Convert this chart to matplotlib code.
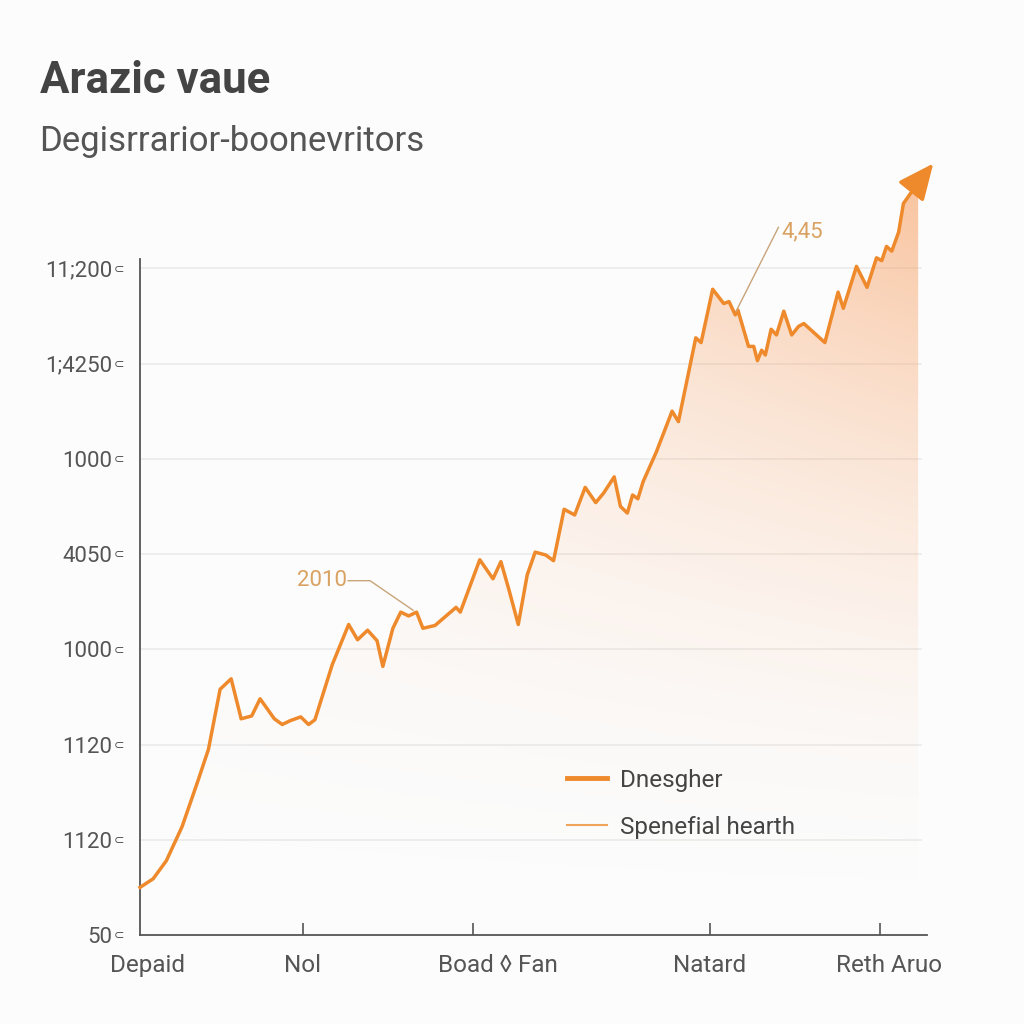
import numpy as np
import matplotlib.pyplot as plt
from matplotlib.lines import Line2D

# series (x: 0-100 across the axis, y: gridline units)
x_vals = [0.0, 1.68, 3.37, 5.39, 7.41, 8.75, 10.24, 11.65, 12.93, 14.28, 15.35, 17.17,
          18.18, 19.19, 20.54, 21.55, 22.36, 24.58, 26.67, 27.81, 29.09, 30.30, 31.04,
          32.32, 33.33, 34.34, 35.35, 36.16, 37.71, 40.40, 40.94, 43.43, 45.12, 46.13,
          47.14, 48.35, 49.49, 50.51, 51.85, 52.86, 54.21, 55.56, 56.90, 58.25, 59.26,
          60.61, 61.41, 62.29, 62.96, 63.64, 64.31, 65.99, 68.01, 68.82, 71.04, 71.72,
          73.20, 74.61, 75.29, 76.09, 76.43, 77.78, 78.45, 78.92, 79.46, 79.93, 80.67,
          81.35, 82.29, 83.30, 84.18, 84.85, 87.54, 89.23, 89.90, 91.58, 92.93, 94.14,
          94.81, 95.42, 96.09, 96.97, 97.58, 99.46]
y_vals = [0.50, 0.59, 0.78, 1.14, 1.62, 1.95, 2.58, 2.69, 2.27, 2.30, 2.48, 2.27,
          2.21, 2.25, 2.29, 2.21, 2.26, 2.84, 3.26, 3.10, 3.20, 3.09, 2.82,
          3.22, 3.39, 3.35, 3.39, 3.22, 3.25, 3.44, 3.39, 3.94, 3.74, 3.92,
          3.63, 3.26, 3.78, 4.02, 3.99, 3.93, 4.47, 4.41, 4.70, 4.54, 4.64,
          4.81, 4.50, 4.43, 4.62, 4.58, 4.76, 5.07, 5.50, 5.39, 6.27, 6.22,
          6.78, 6.63, 6.65, 6.51, 6.56, 6.18, 6.18, 6.03, 6.14, 6.09, 6.36,
          6.30, 6.55, 6.30, 6.39, 6.42, 6.22, 6.75, 6.58, 7.02, 6.80, 7.11,
          7.08, 7.23, 7.18, 7.38, 7.68, 7.90]
arrow_tip = (101.4, 8.10)

y_ticks = [0, 1, 2, 3, 4, 5, 6, 7]
y_labels = ["50", "1120", "1120", "1000", "4050", "1000", "1;4250", "11;200"]
x_ticks = [20.8, 42.6, 72.8, 94.6]
x_label_pos = [1.0, 20.8, 45.8, 72.8, 95.8]
x_labels = ["Depaid", "Nol", "Boad ◊ Fan", "Natard", "Reth Aruo"]
series_names = ["Dnesgher", "Spenefial hearth"]

note_2010 = ("2010", (23.3, 3.72), [26.6, 29.4, 34.9], [3.72, 3.72, 3.41])
note_445 = ("4,45", (84.7, 7.38), [81.6, 81.3, 76.2], [7.43, 7.38, 6.55])

FONT = ["Roboto", "DejaVu Sans"]
plt.rcParams["font.family"] = FONT
ORANGE = "#ee8a2c"
TAN = "#d9a262"
GREY = "#555555"

fig = plt.figure(figsize=(10.24, 10.24), dpi=100, facecolor="#fcfcfc")
ax = fig.add_axes([140 / 1024, 89 / 1024, 798 / 1024, 781 / 1024])
ax.set_facecolor("none")
ax.set_xlim(0, 102)
ax.set_ylim(0, 8.2)

# gridlines
ax.hlines(y_ticks[1:], 0, 100, color="#ebebeb", lw=1.2, zorder=0)

# gradient fill under the line
fill = ax.fill_between(x_vals, y_vals, 0, color="none", lw=0)
gx, gy = np.meshgrid(np.linspace(0, 100, 300), np.linspace(0, 8.2, 300))
alpha = 0.62 * (gy / 8.0) ** 1.9 * (0.3 + 0.7 * (gx / 100) ** 1.3)
grad = np.zeros(gx.shape + (4,))
grad[..., 0], grad[..., 1], grad[..., 2] = 0.97, 0.62, 0.38
grad[..., 3] = np.clip(alpha, 0, 1)
im = ax.imshow(grad, extent=[0, 100, 0, 8.2], origin="lower", aspect="auto", zorder=1)
im.set_clip_path(fill.get_paths()[0], transform=ax.transData)

ax.plot(x_vals, y_vals, color=ORANGE, lw=2.5, solid_joinstyle="round", zorder=3, clip_on=False)
ax.annotate("", xy=arrow_tip, xytext=(x_vals[-1], y_vals[-1]), annotation_clip=False,
            arrowprops=dict(arrowstyle="-|>,head_length=1.0,head_width=0.45", color=ORANGE,
                            lw=2.5, mutation_scale=22, shrinkA=0, shrinkB=0), zorder=4)

# annotations
for text, (tx, ty), lx, ly in [note_2010, note_445]:
    ax.text(tx, ty, text, color=TAN, fontsize=16, ha="center", va="center", zorder=5)
    ax.plot(lx, ly, color="#c9a479", lw=1.0, zorder=4)

# spines / ticks
for s in ["top", "right"]:
    ax.spines[s].set_visible(False)
ax.spines["left"].set_bounds(0, 7.1)
ax.spines["bottom"].set_bounds(0, 100.6)
for s in ["left", "bottom"]:
    ax.spines[s].set_color(GREY)
    ax.spines[s].set_linewidth(1.3)

ax.set_yticks(y_ticks)
ax.set_yticklabels(y_labels)
ax.tick_params(axis="y", length=0, pad=20, labelsize=16, labelcolor=GREY)
for yt in y_ticks:
    ax.text(-0.02, yt, "⊂", transform=ax.get_yaxis_transform(), fontsize=9,
            color=GREY, ha="right", va="center", family=["DejaVu Sans"])

# tick marks as major ticks, labels on minor ticks
ax.xaxis.remove_overlapping_locs = False
ax.set_xticks(x_ticks)
ax.set_xticklabels([])
ax.tick_params(axis="x", which="major", direction="in", length=9, width=1.2, color=GREY)
ax.set_xticks(x_label_pos, minor=True)
ax.set_xticklabels(x_labels, minor=True)
ax.tick_params(axis="x", which="minor", length=0, pad=14, labelsize=17.5, labelcolor=GREY)

# legend
handles = [Line2D([], [], color=ORANGE, lw=3.5), Line2D([], [], color="#f0a55c", lw=1.5)]
ax.legend(handles, series_names, loc="upper left", bbox_to_anchor=(0.535, 0.213),
          frameon=False, fontsize=17.5, handlelength=1.65, handletextpad=0.55,
          labelspacing=1.0, borderpad=0, borderaxespad=0, labelcolor="#444444")

# title / subtitle
fig.text(40 / 1024, 1 - 81 / 1024, "Arazic vaue", fontsize=31.5, fontweight="bold",
         color="#444444", va="center", ha="left")
fig.text(39 / 1024, 1 - 141 / 1024, "Degisrrarior-boonevritors", fontsize=25,
         color="#555555", va="center", ha="left")

fig.savefig("out.png", dpi=100, facecolor=fig.get_facecolor())
